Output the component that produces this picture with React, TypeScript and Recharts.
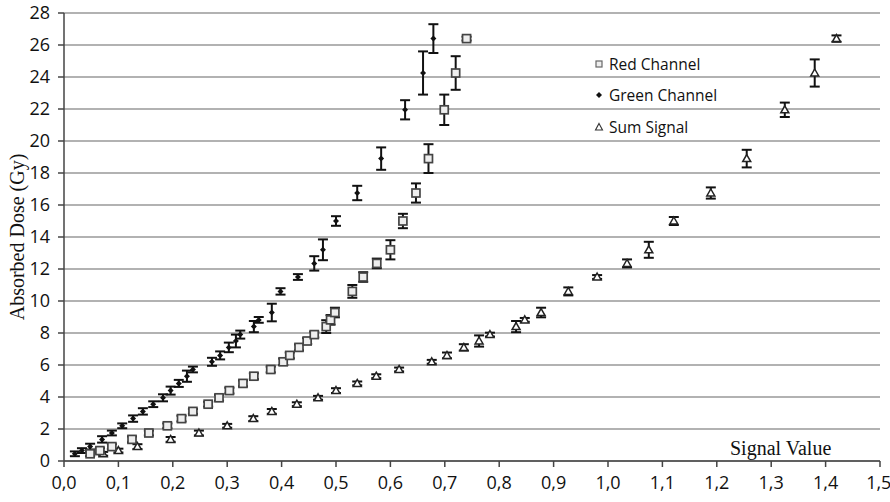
import {
  ScatterChart,
  Scatter,
  XAxis,
  YAxis,
  CartesianGrid,
  ErrorBar,
  Legend,
} from "recharts";

// dose levels (Gy) shared by all three series
const doses = [
  0.45, 0.65, 0.9, 1.35, 1.75, 2.2, 2.65, 3.1, 3.55, 3.95, 4.4, 4.85, 5.3, 5.72,
  6.2, 6.6, 7.1, 7.5, 7.9, 8.4, 8.82, 9.28, 10.6, 11.5, 12.35, 13.2, 15.0,
  16.75, 18.9, 21.95, 24.25, 26.4,
];

const redSignal = [
  0.048, 0.066, 0.088, 0.125, 0.156, 0.19, 0.216, 0.237, 0.265, 0.285, 0.304,
  0.329, 0.349, 0.38, 0.403, 0.415, 0.432, 0.447, 0.46, 0.482, 0.49, 0.498,
  0.53, 0.55, 0.575, 0.6, 0.623, 0.647, 0.67, 0.699, 0.72, 0.74,
];
const redErr = [
  0.15, 0.15, 0.15, 0.18, 0.15, 0.15, 0.18, 0.15, 0.15, 0.18, 0.18, 0.18, 0.18,
  0.18, 0.2, 0.18, 0.18, 0.18, 0.18, 0.4, 0.3, 0.3, 0.4, 0.3, 0.3, 0.6, 0.45,
  0.6, 0.9, 0.95, 1.05, 0.12,
];

const greenSignal = [
  0.02, 0.033, 0.048, 0.07, 0.088, 0.107, 0.127, 0.145, 0.164, 0.182, 0.196,
  0.211, 0.226, 0.237, 0.272, 0.287, 0.303, 0.316, 0.324, 0.349, 0.358, 0.382,
  0.398, 0.43, 0.46, 0.476, 0.5, 0.539, 0.583, 0.627, 0.66, 0.679,
];
const greenErr = [
  0.15, 0.15, 0.18, 0.2, 0.15, 0.15, 0.2, 0.2, 0.18, 0.22, 0.25, 0.22, 0.35,
  0.18, 0.25, 0.25, 0.3, 0.4, 0.25, 0.35, 0.18, 0.55, 0.2, 0.18, 0.45, 0.65,
  0.3, 0.45, 0.7, 0.6, 1.35, 0.9,
];

const sumSignal = [
  0.072, 0.1, 0.135, 0.196, 0.248, 0.3, 0.348, 0.382, 0.428, 0.467, 0.5, 0.539,
  0.574, 0.616, 0.676, 0.704, 0.735, 0.763, 0.783, 0.831, 0.847, 0.877, 0.927,
  0.98, 1.035, 1.075, 1.121, 1.189, 1.255, 1.325, 1.38, 1.42,
];
const sumErr = [
  0.12, 0.12, 0.15, 0.15, 0.15, 0.12, 0.15, 0.15, 0.12, 0.12, 0.15, 0.12, 0.12,
  0.12, 0.12, 0.18, 0.2, 0.35, 0.12, 0.35, 0.12, 0.3, 0.25, 0.12, 0.25, 0.5,
  0.25, 0.35, 0.55, 0.45, 0.85, 0.2,
];

const xTicks = [0, 0.1, 0.2, 0.3, 0.4, 0.5, 0.6, 0.7, 0.8, 0.9, 1.0, 1.1, 1.2, 1.3, 1.4, 1.5];
const yTicks = [0, 2, 4, 6, 8, 10, 12, 14, 16, 18, 20, 22, 24, 26, 28];

const build = (signal: number[], err: number[]) =>
  doses.map((d, i) => ({ x: signal[i], y: d, err: err[i] }));

const redData = build(redSignal, redErr);
const greenData = build(greenSignal, greenErr);
const sumData = build(sumSignal, sumErr);

const SANS = "'Open Sans', 'Noto Sans', sans-serif";
const SERIF = "'Liberation Serif', 'DejaVu Serif', serif";

const Square = ({ cx, cy }: any) => (
  <rect x={cx - 4} y={cy - 4} width={8} height={8} fill="#eee" stroke="#444" strokeWidth={1.7} />
);
const Diamond = ({ cx, cy }: any) => (
  <path d={`M${cx},${cy - 3} L${cx + 3},${cy} L${cx},${cy + 3} L${cx - 3},${cy} Z`} fill="#111" />
);
const Triangle = ({ cx, cy }: any) => (
  <path d={`M${cx},${cy - 4} L${cx + 4},${cy + 3} L${cx - 4},${cy + 3} Z`} fill="#fff" stroke="#222" strokeWidth={1.5} />
);

const legendItems = [
  { label: "Red Channel", icon: <rect x={2} y={2} width={6} height={6} fill="#eee" stroke="#666" strokeWidth={1.2} /> },
  { label: "Green Channel", icon: <path d="M5,2 L8,5 L5,8 L2,5 Z" fill="#111" /> },
  { label: "Sum Signal", icon: <path d="M5,1.5 L8.5,8 L1.5,8 Z" fill="#fff" stroke="#333" strokeWidth={1.1} /> },
];

const renderLegend = () => (
  <div style={{ fontFamily: SANS, fontSize: 15.5, color: "#111" }}>
    {legendItems.map((it) => (
      <div key={it.label} style={{ display: "flex", alignItems: "center", height: 31.5 }}>
        <svg width={10} height={10} style={{ marginRight: 5 }}>
          {it.icon}
        </svg>
        {it.label}
      </div>
    ))}
  </div>
);

const fmt = (v: number) => v.toFixed(1).replace(".", ",");

export default function App() {
  return (
    <div>
      <style>{`body{margin:0;background:#fff}`}</style>
      <ScatterChart width={890} height={502} margin={{ top: 13, right: 10, bottom: 0, left: 0 }}>
        <CartesianGrid vertical={false} stroke="#999" strokeWidth={1.5} />
        <XAxis
          type="number"
          dataKey="x"
          domain={[0, 1.5]}
          ticks={xTicks}
          tickFormatter={fmt}
          height={41}
          tickSize={6}
          tickMargin={9}
          stroke="#444"
          strokeWidth={1.5}
          tick={{ fill: "#111", fontSize: 18, fontFamily: SANS }}
          label={{
            content: ({ viewBox }: any) => (
              <text x={viewBox.x + viewBox.width - 150} y={viewBox.y - 6} fontFamily={SERIF} fontSize={20} fill="#111">
                Signal Value
              </text>
            ),
          }}
        />
        <YAxis
          type="number"
          dataKey="y"
          domain={[0, 28]}
          ticks={yTicks}
          width={64}
          tickSize={6}
          tickMargin={8}
          stroke="#444"
          strokeWidth={1.5}
          tick={{ fill: "#111", fontSize: 18, fontFamily: SANS }}
          label={{
            content: ({ viewBox }: any) => {
              const cx = viewBox.x + 17;
              const cy = viewBox.y + viewBox.height / 2;
              return (
                <text x={cx} y={cy} transform={`rotate(-90 ${cx} ${cy})`} textAnchor="middle" dominantBaseline="central" fontFamily={SERIF} fontSize={20} fill="#111">
                  Absorbed Dose (Gy)
                </text>
              );
            },
          }}
        />
        <Legend
          content={renderLegend}
          layout="vertical"
          verticalAlign="middle"
          align="center"
          wrapperStyle={{ left: 594, top: 48, width: 160 }}
        />
        <Scatter name="Sum Signal" data={sumData} shape={Triangle} isAnimationActive={false}>
          <ErrorBar dataKey="err" direction="y" width={5} stroke="#111" strokeWidth={2} isAnimationActive={false} />
        </Scatter>
        <Scatter name="Red Channel" data={redData} shape={Square} isAnimationActive={false}>
          <ErrorBar dataKey="err" direction="y" width={5} stroke="#111" strokeWidth={2} isAnimationActive={false} />
        </Scatter>
        <Scatter name="Green Channel" data={greenData} shape={Diamond} isAnimationActive={false}>
          <ErrorBar dataKey="err" direction="y" width={5} stroke="#111" strokeWidth={2} isAnimationActive={false} />
        </Scatter>
      </ScatterChart>
    </div>
  );
}
